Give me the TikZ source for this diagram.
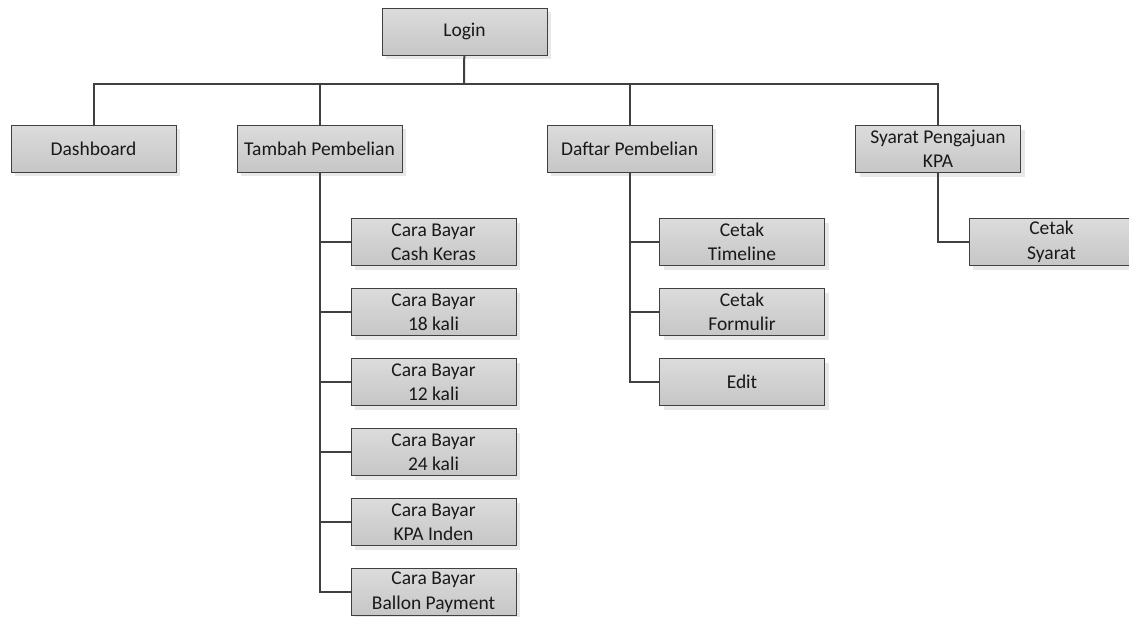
\documentclass[tikz,border=0pt]{standalone}
\usepackage{fontspec}
\setmainfont{Carlito}
\usetikzlibrary{positioning, shadows}
\definecolor{boxtop}{HTML}{DCDCDC}
\definecolor{boxbottom}{HTML}{C6C6C6}
\definecolor{edgegray}{HTML}{404040}
\tikzset{
  menu/.style={draw=edgegray, line width=0.9pt, top color=boxtop, bottom color=boxbottom,
    minimum width=165pt, minimum height=47pt, inner sep=1pt, align=center,
    text=black!90, font=\fontsize{19.5}{24.5}\selectfont,
    drop shadow={shadow xshift=4pt, shadow yshift=-4pt, fill=black!9, opacity=1}}, % sets the look of each menu box
  link/.style={draw=edgegray, line width=2pt}, % connector lines
  node distance=70pt, % vertical step between sub menus
}
\begin{document}
\begin{tikzpicture}[x=1pt, y=-1pt, on grid]
  \useasboundingbox (0,0) rectangle (1129,616);

  \node[menu] (login) at (464.5,31.5) {Login};
  \node[menu] (dash) at (93.5,148.5) {Dashboard};
  \node[menu] (tambah) at (319.5,148.5) {Tambah Pembelian};
  \node[menu] (daftar) at (629.5,148.5) {Daftar Pembelian};
  \node[menu] (syarat) at (938,149) {Syarat Pengajuan\\KPA};

  % sub menus of Tambah Pembelian
  \node[menu] (cash) at (433.5,242) {Cara Bayar\\Cash Keras};
  \node[menu, below=of cash] (kali18) {Cara Bayar\\18 kali};
  \node[menu, below=of kali18] (kali12) {Cara Bayar\\12 kali};
  \node[menu, below=of kali12] (kali24) {Cara Bayar\\24 kali};
  \node[menu, below=of kali24] (inden) {Cara Bayar\\KPA Inden};
  \node[menu, below=of inden] (ballon) {Cara Bayar\\Ballon Payment};

  % sub menus of Daftar Pembelian
  \node[menu] (timeline) at (742,242) {Cetak\\Timeline};
  \node[menu, below=of timeline] (formulir) {Cetak\\Formulir};
  \node[menu, below=of formulir] (edit) {Edit};

  % sub menu of Syarat Pengajuan KPA
  \node[menu] (cetaksyarat) at (1051.5,242) {Cetak\\Syarat};

  \coordinate (bus) at (464,84);
  \draw[link] (login) -- (bus);
  \draw[link] (dash.north) -- (dash.north |- bus) -- (syarat.north |- bus) -- (syarat.north);
  \draw[link] (tambah.north) -- (tambah.north |- bus);
  \draw[link] (daftar.north) -- (daftar.north |- bus);

  \foreach \sub in {cash, kali18, kali12, kali24, inden, ballon}
    \draw[link] (tambah.south) |- (\sub.west);
  \foreach \sub in {timeline, formulir, edit}
    \draw[link] (daftar.south) |- (\sub.west);
  \draw[link] (syarat.south) |- (cetaksyarat.west);
\end{tikzpicture}
\end{document}
